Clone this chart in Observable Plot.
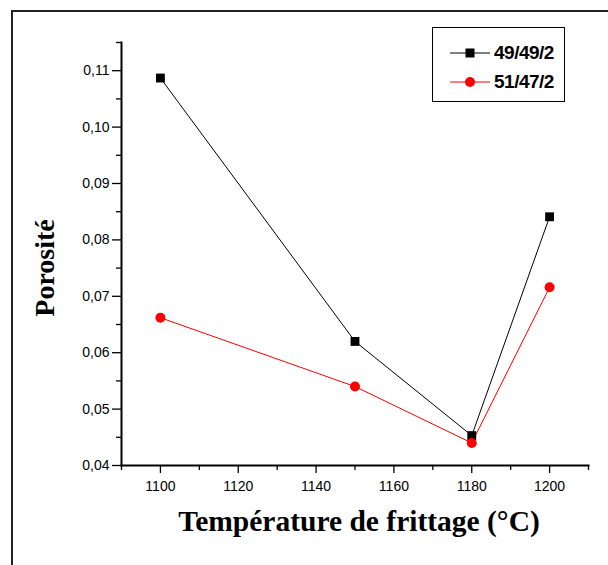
<!DOCTYPE html>
<html>
<head>
<meta charset="utf-8">
<script src="https://cdn.jsdelivr.net/npm/d3@7"></script>
<script src="https://cdn.jsdelivr.net/npm/@observablehq/plot@0.6"></script>
<style>
  html, body { margin: 0; padding: 0; background: #fff; }
  #wrap { position: relative; width: 608px; height: 565px; overflow: hidden; background: #fff; }
  #frameTop { position: absolute; left: 11px; top: 10px; width: 600px; height: 2px; background: #222; }
  #frameLeft { position: absolute; left: 11px; top: 10px; width: 2px; height: 560px; background: #222; }
  .lbl { position: absolute; font-family: "Liberation Serif", "Times New Roman", serif; font-weight: bold; color: #000; white-space: nowrap; }
  #xlab { font-size: 29.5px; left: 359px; top: 521px; transform: translate(-50%, -50%); }
  #ylab { font-size: 28px; left: 45px; top: 268px; transform: translate(-50%, -50%) rotate(-90deg); }
  #legend { position: absolute; left: 432px; top: 27px; width: 133px; height: 75px; border: 1px solid #000; background: #fff; box-sizing: border-box;
            font-family: "Liberation Sans", Arial, sans-serif; font-weight: bold; font-size: 19px; }
  .row { position: absolute; left: 17px; height: 20px; display: flex; align-items: center; }
  .row span { margin-left: 4px; letter-spacing: -0.5px; }
  svg { display: block; }
</style>
</head>
<body>
<div id="wrap"></div>
<script>
// Data
const temperatures = [1100, 1150, 1180, 1200];
const series49 = [0.1087, 0.0620, 0.0453, 0.0841];
const series51 = [0.0662, 0.0540, 0.0440, 0.0716];
const seriesNames = ["49/49/2", "51/47/2"];
const seriesColors = ["#000000", "#ff0000"];
const xTicksMajor = [1100, 1120, 1140, 1160, 1180, 1200];
const xTicksMinor = [1090, 1110, 1130, 1150, 1170, 1190, 1210];
const yTicksMajor = [0.04, 0.05, 0.06, 0.07, 0.08, 0.09, 0.10, 0.11];
const yTicksMinor = [0.045, 0.055, 0.065, 0.075, 0.085, 0.095, 0.105, 0.115];

const data49 = temperatures.map((t, i) => ({t, v: series49[i]}));
const data51 = temperatures.map((t, i) => ({t, v: series51[i]}));

const fmt = d => d.toFixed(2).replace(".", ",");

const chart = Plot.plot({
  width: 608,
  height: 565,
  marginLeft: 121,
  marginTop: 42,
  marginRight: 20,
  marginBottom: 100,
  style: { fontFamily: "'Liberation Sans', Arial, sans-serif", background: "transparent", overflow: "visible" },
  x: { domain: [1090, 1210] },
  y: { domain: [0.04, 0.115] },
  marks: [
    Plot.axisY(yTicksMajor, { tickSize: 9, tickPadding: 3, fontSize: 14, tickFormat: fmt, label: null, stroke: "#000", strokeWidth: 1.3, fill: "#000" }),
    Plot.axisY(yTicksMinor, { tickSize: 5, text: null, label: null, stroke: "#000", strokeWidth: 1.3 }),
    Plot.axisX(xTicksMajor, { tickSize: 8, tickPadding: 8, fontSize: 14, tickFormat: d => String(d), label: null, stroke: "#000", strokeWidth: 1.3, fill: "#000" }),
    Plot.axisX(xTicksMinor, { tickSize: 5, text: null, label: null, stroke: "#000", strokeWidth: 1.3 }),
    Plot.frame({ anchor: "left", stroke: "#000", strokeWidth: 2 }),
    Plot.frame({ anchor: "bottom", stroke: "#000", strokeWidth: 2 }),
    Plot.line(data49, { x: "t", y: "v", stroke: seriesColors[0], strokeWidth: 1 }),
    Plot.line(data51, { x: "t", y: "v", stroke: seriesColors[1], strokeWidth: 1 }),
    Plot.dot(data49, { x: "t", y: "v", symbol: "square", r: 5, fill: seriesColors[0], stroke: "none" }),
    Plot.dot(data51, { x: "t", y: "v", symbol: "circle", r: 5, fill: seriesColors[1], stroke: "none" })
  ]
});

const wrap = document.getElementById("wrap");
wrap.appendChild(chart);

function add(html) { wrap.insertAdjacentHTML("beforeend", html); }
add('<div id="frameTop"></div><div id="frameLeft"></div>');
add('<div id="ylab" class="lbl">Porosité</div>');
add('<div id="xlab" class="lbl">Température de frittage (°C)</div>');

const sw = (color, sym) => `<svg width="40" height="14" viewBox="0 0 40 14">
  <line x1="0" y1="7" x2="40" y2="7" stroke="${color}" stroke-width="1"/>
  ${sym === "square" ? `<rect x="15.5" y="2.5" width="9" height="9" fill="${color}"/>` : `<circle cx="20" cy="7" r="5" fill="${color}"/>`}
</svg>`;
add(`<div id="legend">
  <div class="row" style="top:15px">${sw(seriesColors[0], "square")}<span>${seriesNames[0]}</span></div>
  <div class="row" style="top:44px">${sw(seriesColors[1], "circle")}<span>${seriesNames[1]}</span></div>
</div>`);
</script>
</body>
</html>
